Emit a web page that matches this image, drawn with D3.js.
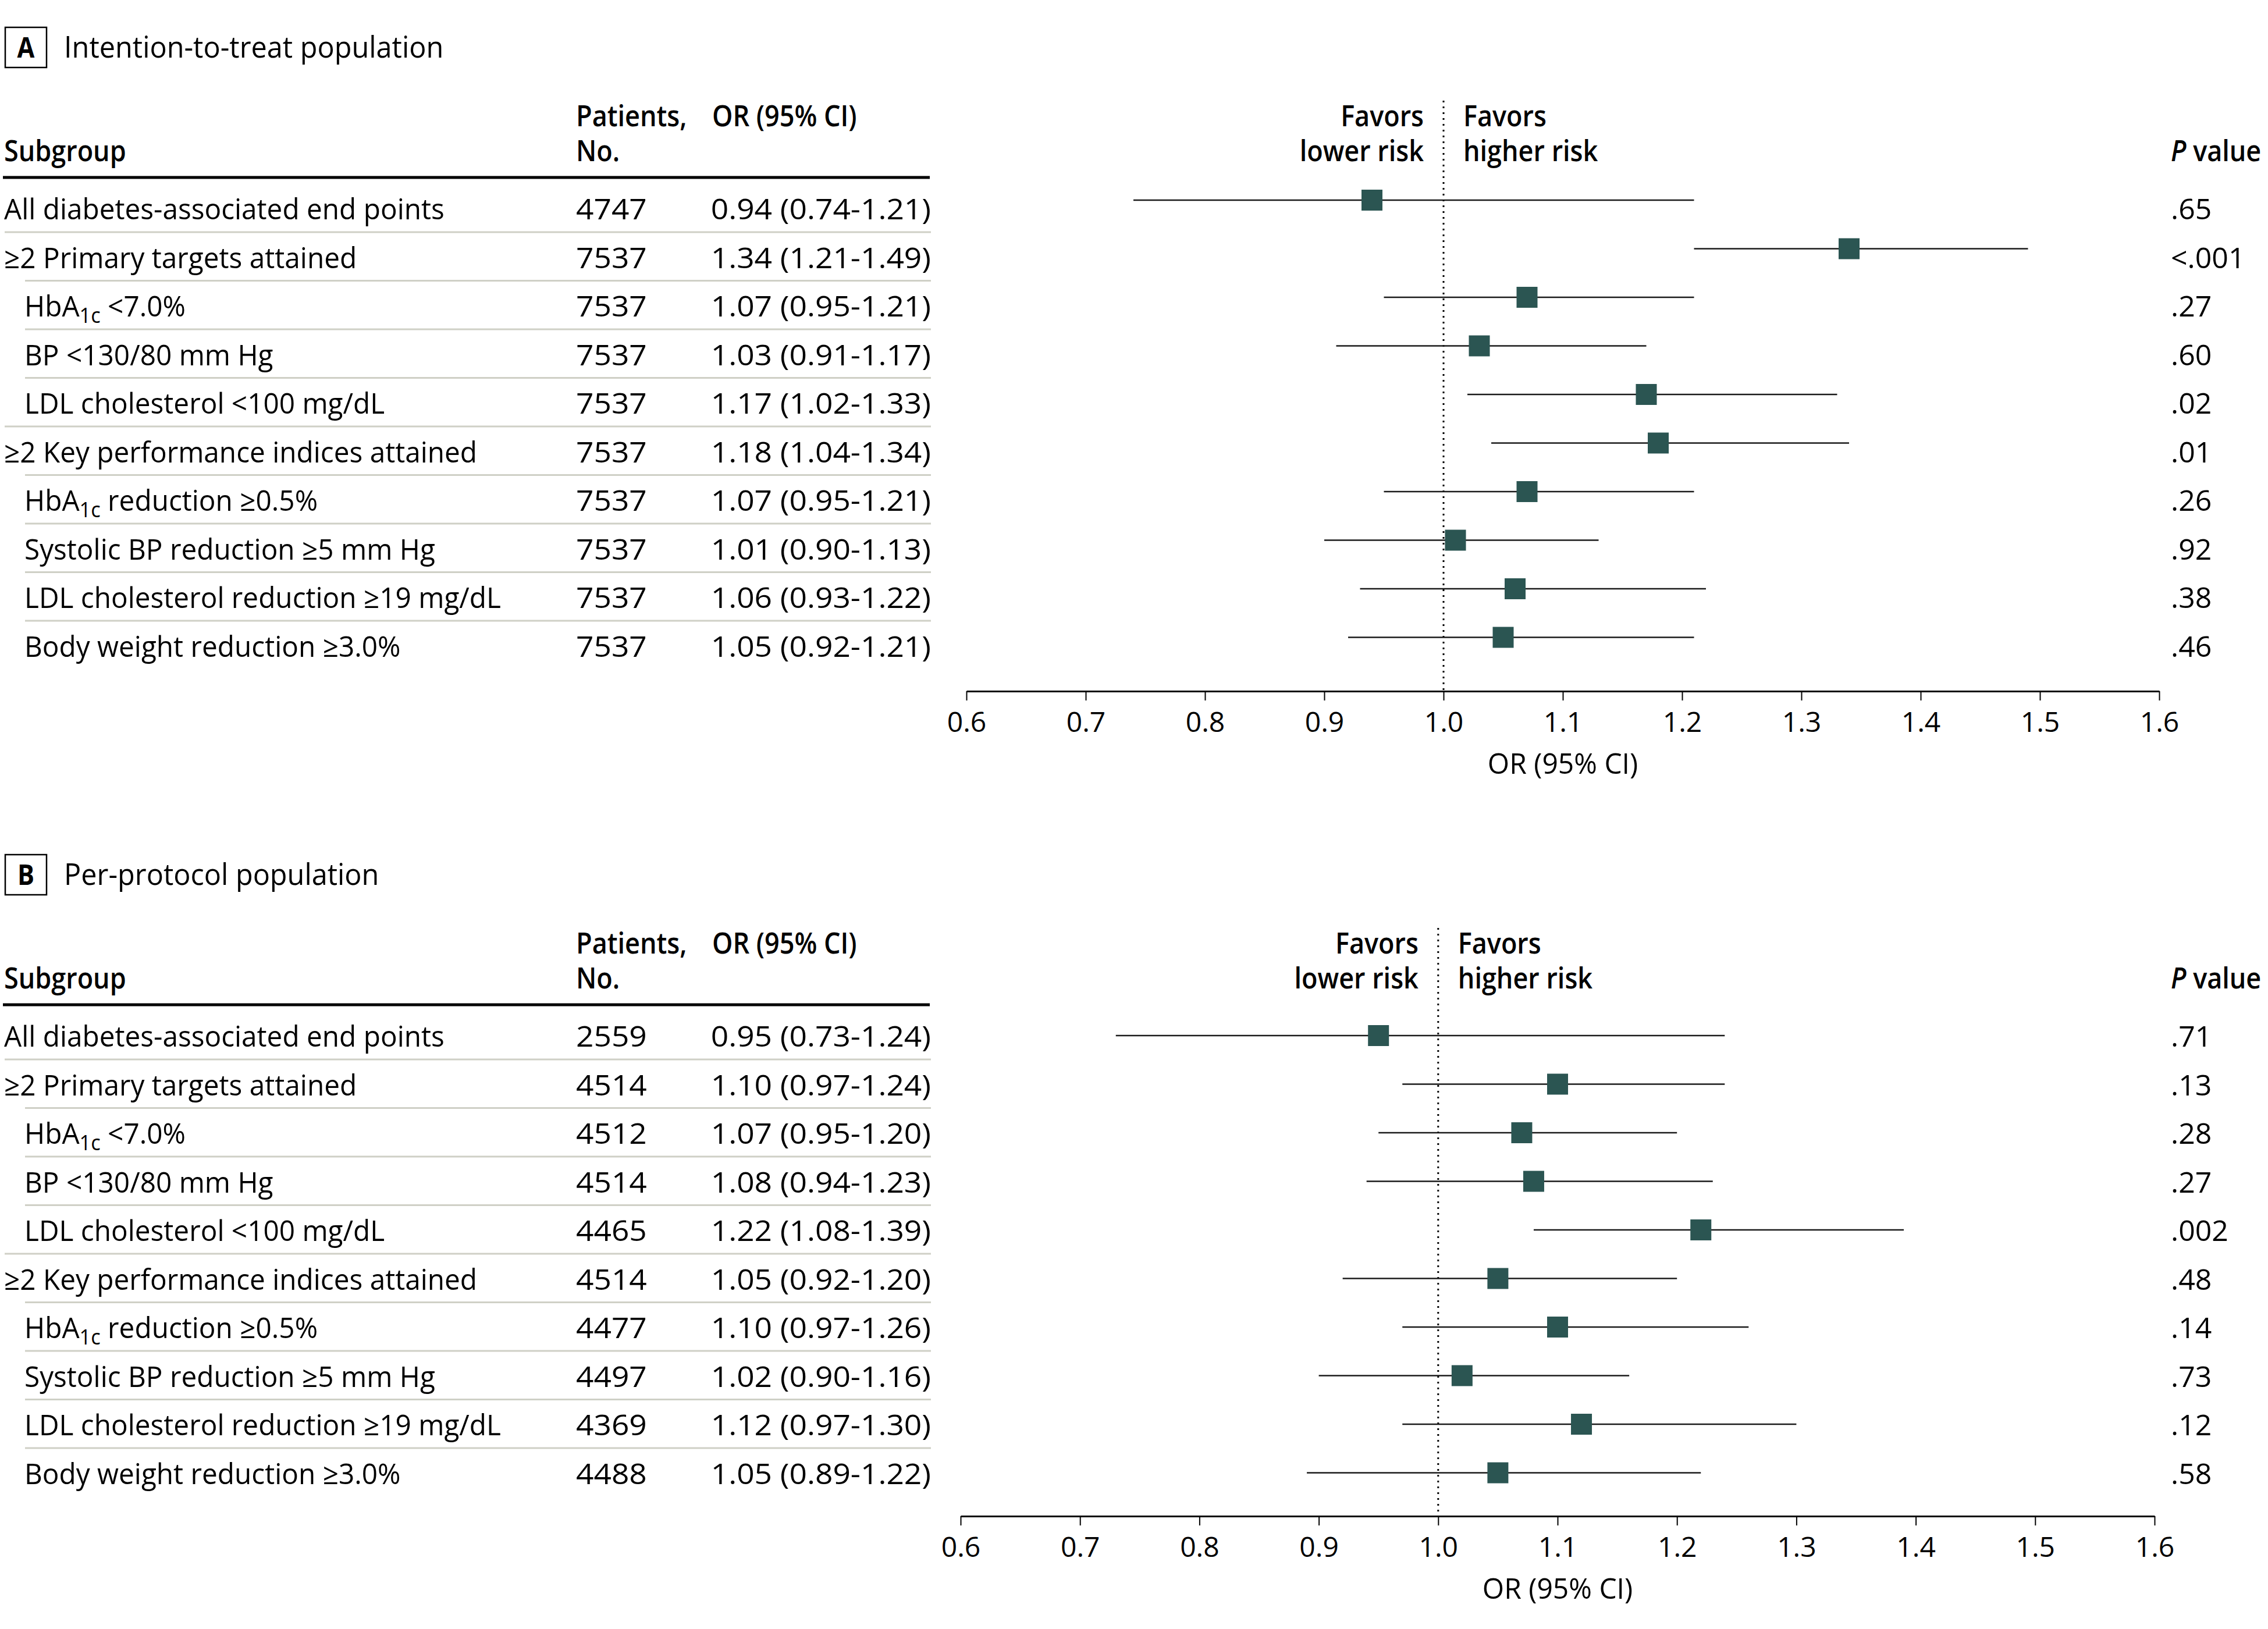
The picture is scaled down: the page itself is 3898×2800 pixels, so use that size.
<!DOCTYPE html>
<html><head><meta charset="utf-8">
<script src="https://cdn.jsdelivr.net/npm/d3@7"></script>
<style>
body{margin:0;background:#fff}
text{font-family:'Open Sans','Noto Sans',sans-serif;fill:#000}
</style>
</head><body>
<svg id="chart" width="3898" height="2800"></svg>
<script>
// ---------- data ----------
const subgroups = [
  "All diabetes-associated end points",
  "≥2 Primary targets attained",
  "HbA1c <7.0%",
  "BP <130/80 mm Hg",
  "LDL cholesterol <100 mg/dL",
  "≥2 Key performance indices attained",
  "HbA1c reduction ≥0.5%",
  "Systolic BP reduction ≥5 mm Hg",
  "LDL cholesterol reduction ≥19 mg/dL",
  "Body weight reduction ≥3.0%"
];
const subgroupLevel = [0, 0, 1, 1, 1, 0, 1, 1, 1, 1];

const ittN    = [4747, 7537, 7537, 7537, 7537, 7537, 7537, 7537, 7537, 7537];
const ittOR   = [0.94, 1.34, 1.07, 1.03, 1.17, 1.18, 1.07, 1.01, 1.06, 1.05];
const ittLow  = [0.74, 1.21, 0.95, 0.91, 1.02, 1.04, 0.95, 0.90, 0.93, 0.92];
const ittHigh = [1.21, 1.49, 1.21, 1.17, 1.33, 1.34, 1.21, 1.13, 1.22, 1.21];
const ittP    = [".65", "<.001", ".27", ".60", ".02", ".01", ".26", ".92", ".38", ".46"];

const ppN    = [2559, 4514, 4512, 4514, 4465, 4514, 4477, 4497, 4369, 4488];
const ppOR   = [0.95, 1.10, 1.07, 1.08, 1.22, 1.05, 1.10, 1.02, 1.12, 1.05];
const ppLow  = [0.73, 0.97, 0.95, 0.94, 1.08, 0.92, 0.97, 0.90, 0.97, 0.89];
const ppHigh = [1.24, 1.24, 1.20, 1.23, 1.39, 1.20, 1.26, 1.16, 1.30, 1.22];
const ppP    = [".71", ".13", ".28", ".27", ".002", ".48", ".14", ".73", ".12", ".58"];

const tickValues = [0.6, 0.7, 0.8, 0.9, 1.0, 1.1, 1.2, 1.3, 1.4, 1.5, 1.6];
const xDomain = [0.6, 1.6];

// ---------- layout ----------
const svg = d3.select("#chart");
const FS = 50;
const markerColor = "#2b5552";
const sepColor = "#cfd0c6";

const panels = [
  {letter: "A", title: "Intention-to-treat population", dy: 0, axisY: 1188, xr: [1661, 3711], mOff: -33,
   n: ittN, or: ittOR, lo: ittLow, hi: ittHigh, p: ittP},
  {letter: "B", title: "Per-protocol population", dy: 1422, axisY: 1184, xr: [1651, 3703], mOff: -19,
   n: ppN, or: ppOR, lo: ppLow, hi: ppHigh, p: ppP}
];

const rowY = d3.scaleLinear().domain([0, subgroups.length - 1]).range([377, 377 + 9 * 83.5]);
const fmt2 = d3.format(".2f");

// text helper with horizontal scaling
function txt(g, x, y, o) {
  o = o || {};
  return g.append("text")
    .attr("transform", `translate(${x},${y}) scale(${o.sx || 1},1)`)
    .attr("text-anchor", o.anchor || "start")
    .attr("font-size", o.fs || FS)
    .attr("font-weight", o.fw || 400);
}

function addLabel(sel, label) {
  if (label.startsWith("HbA1c")) {
    sel.append("tspan").text("HbA");
    sel.append("tspan").attr("font-size", FS * 0.72).attr("dy", 11).text("1c");
    sel.append("tspan").attr("dy", -11).text(label.slice(5));
  } else {
    sel.text(label);
  }
}

const HSX = 0.9;   // bold header condense
const LSX = 0.955; // label condense
const NSX = 1.065; // numeric widen

panels.forEach(P => {
  const g = svg.append("g").attr("transform", `translate(0,${P.dy})`);
  const x = d3.scaleLinear().domain(xDomain).range(P.xr);

  // title box
  g.append("rect").attr("x", 9).attr("y", 47).attr("width", 71).attr("height", 69)
    .attr("fill", "none").attr("stroke", "#000").attr("stroke-width", 2.5);
  txt(g, 44.5, 99, {anchor: "middle", fs: 48, fw: 700, sx: HSX}).text(P.letter);
  txt(g, 110, 99, {fs: 52, sx: 0.935}).text(P.title);

  // headers
  const hdr = (tx, xx, yy, anchor) => txt(g, xx, yy, {anchor: anchor, fw: 600, sx: HSX}).text(tx);
  hdr("Subgroup", 7, 277);
  hdr("Patients,", 990, 217);
  hdr("No.", 990, 277);
  hdr("OR (95% CI)", 1224, 217);
  const x1 = x(1.0);
  hdr("Favors", x1 - 34, 217, "end");
  hdr("lower risk", x1 - 34, 277, "end");
  hdr("Favors", x1 + 34, 217);
  hdr("higher risk", x1 + 34, 277);
  const pv = txt(g, 3731, 277, {fw: 600, sx: HSX});
  pv.append("tspan").attr("font-style", "italic").text("P");
  pv.append("tspan").text(" value");

  // header rule
  g.append("line").attr("x1", 5).attr("x2", 1598).attr("y1", 305).attr("y2", 305)
    .attr("stroke", "#000").attr("stroke-width", 5);

  // row separators
  d3.range(subgroups.length - 1).forEach(i => {
    g.append("line")
      .attr("x1", subgroupLevel[i + 1] ? 43 : 8).attr("x2", 1600)
      .attr("y1", rowY(i) + 22).attr("y2", rowY(i) + 22)
      .attr("stroke", sepColor).attr("stroke-width", 3);
  });

  // table text
  subgroups.forEach((lab, i) => {
    const y = rowY(i);
    const t = txt(g, subgroupLevel[i] ? 42 : 7, y, {sx: LSX});
    addLabel(t, lab);
    txt(g, 990, y, {sx: NSX}).text(P.n[i]);
    txt(g, 1600, y, {anchor: "end", sx: NSX})
      .text(`${fmt2(P.or[i])} (${fmt2(P.lo[i])}-${fmt2(P.hi[i])})`);
    txt(g, 3731, y).text(P.p[i]);
  });

  // reference line at 1.0
  g.append("line").attr("x1", x1).attr("x2", x1).attr("y1", 173).attr("y2", P.axisY)
    .attr("stroke", "#000").attr("stroke-width", 3).attr("stroke-dasharray", "3 7");

  // CIs and markers
  const rows = subgroups.map((s, i) => ({i, or: P.or[i], lo: P.lo[i], hi: P.hi[i]}));
  g.selectAll(".ci").data(rows).join("line").attr("class", "ci")
    .attr("x1", d => x(d.lo)).attr("x2", d => x(d.hi))
    .attr("y1", d => rowY(d.i) + P.mOff).attr("y2", d => rowY(d.i) + P.mOff)
    .attr("stroke", "#1a1a1a").attr("stroke-width", 2.5);
  const sq = 36;
  g.selectAll(".pt").data(rows).join("rect").attr("class", "pt")
    .attr("x", d => x(d.or) - sq / 2).attr("y", d => rowY(d.i) + P.mOff - sq / 2)
    .attr("width", sq).attr("height", sq).attr("fill", markerColor);

  // axis
  const axis = d3.axisBottom(x).tickValues(tickValues).tickFormat(d3.format(".1f"))
    .tickSize(16).tickSizeOuter(0).tickPadding(20);
  const ag = g.append("g").attr("transform", `translate(0,${P.axisY})`).call(axis);
  ag.select(".domain").attr("stroke", "#000").attr("stroke-width", 3);
  ag.selectAll(".tick line").attr("stroke", "#000").attr("stroke-width", 2);
  ag.selectAll(".tick text").attr("font-size", 48).attr("font-family", "'Open Sans','Noto Sans',sans-serif").attr("fill", "#000");
  txt(g, (P.xr[0] + P.xr[1]) / 2, P.axisY + 142, {anchor: "middle", sx: 0.96}).text("OR (95% CI)");
});
</script>
</body></html>
